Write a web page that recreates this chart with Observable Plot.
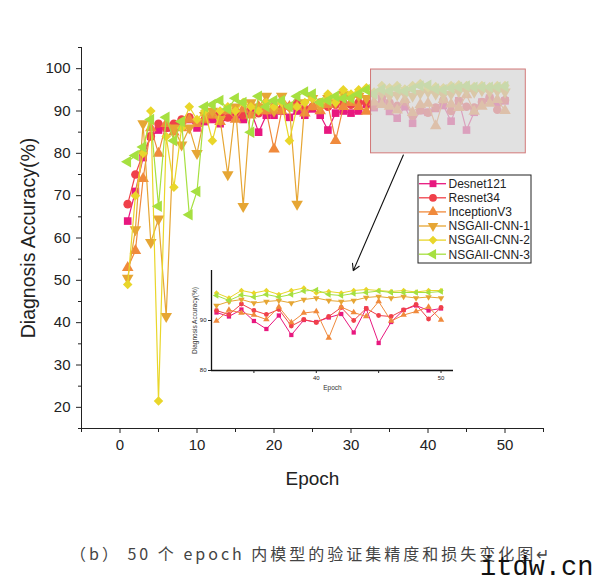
<!DOCTYPE html>
<html><head><meta charset="utf-8">
<script src="https://cdn.jsdelivr.net/npm/d3@7"></script>
<script src="https://cdn.jsdelivr.net/npm/@observablehq/plot@0.6"></script>
<style>
body{margin:0;background:#fff;width:600px;height:575px;position:relative;overflow:hidden;font-family:"Liberation Sans",Arial,sans-serif;}
#main{position:absolute;left:0;top:0}
#inset{position:absolute;left:181px;top:262px}
#legend{position:absolute;left:0;top:0}
#caption{position:absolute;left:70px;top:543px;font-family:"Noto Sans CJK SC";font-size:16px;line-height:20px;letter-spacing:3px;color:#444;white-space:pre}
#wm{position:absolute;left:480px;top:555px;font-family:"Liberation Mono",monospace;font-size:27px;line-height:27px;color:#111;white-space:pre}
</style></head><body>
<div id="main"></div><div id="inset"></div><div id="legend"></div>
<div id="caption">（b） 50 个 epoch 内模型的验证集精度和损失变化图↵</div>
<div id="wm">itdw.cn</div>
<script>
// ---------- data ----------
const epochs = [1,2,3,4,5,6,7,8,9,10,11,12,13,14,15,16,17,18,19,20,21,22,23,24,25,26,27,28,29,30,31,32,33,34,35,36,37,38,39,40,41,42,43,44,45,46,47,48,49,50];
const seriesNames = ["Desnet121","Resnet34","InceptionV3","NSGAII-CNN-1","NSGAII-CNN-2","NSGAII-CNN-3"];
const desnet121 = [64,71,79,84,85.5,86,86.5,87,88,86,87.5,88,87,88.5,89,88,90,85,89,89,90,88.5,90,89,90.5,89,85.5,89.5,90,89.5,90,
  91.6,90.8,92.2,89.9,88.3,91.0,87.1,90.1,89.7,90.6,91.3,87.6,92.4,85.5,89.7,92.1,93.0,92.0,92.4];
const resnet34 = [68,75,80,84,87,86,87,88,88.5,87.5,88,89,89.5,88.5,90,89,91,89.5,90,91,90.5,91,92,90.5,91,92,91,91.5,92,91.5,92,
  92.0,91.2,93.3,92.0,91.2,92.2,88.9,90.2,89.6,90.8,92.6,90.0,92.4,91.0,90.8,92.1,93.2,90.3,92.6];
const inceptionV3 = [53,57,74,86,80,87,85,86,88,87,88,89,87.5,90,88,90.5,89,91,90,81,90,91,91,89.5,91,90,91.5,83,91,92,91,
  89.9,92.1,91.5,91.1,90.2,92.7,89.6,91.5,91.8,86.5,92.7,91.6,90.8,93.8,89.9,91.1,91.8,92.7,90.1];
const nsgaCnn1 = [50.5,62,87,59,64.5,41.5,86,82,86,80,89,90,88,75,91,67.5,92,91,93.5,90,93.5,91,68,92,93,91,93,92,94,93,93.5,
  93.0,93.8,94.2,93.5,93.8,94.0,93.5,94.2,94.5,94.0,93.8,94.0,94.6,94.8,94.5,94.8,94.5,94.7,94.5];
const nsgaCnn2 = [49,70,80,90,21.5,84,72,86,91,88,90,83,90,91,90,92,91,90,92,91,92,83,91,92,93,92,94,92,95,94,95,
  95.5,94.5,96.0,95.5,96.0,95.2,96.0,96.5,95.5,95.8,95.5,96.0,96.2,96.0,95.8,96.0,95.7,96.0,96.0];
const nsgaCnn3 = [78,79.5,81.5,88,67.5,88.5,83,87.5,65.5,71,91,91.5,92.5,90.5,93,92,85,93.5,91,92.5,92.5,91,93.5,94.5,94,92,92.5,93.5,93,93,94,
  95.0,94.0,95.1,94.7,95.2,94.7,95.2,95.9,96.1,95.2,95.0,95.4,95.6,95.9,95.6,95.6,95.6,95.6,95.8];
const seriesValues = [desnet121, resnet34, inceptionV3, nsgaCnn1, nsgaCnn2, nsgaCnn3];

const xMajorTicks = [0,10,20,30,40,50];
const xMinorTicks = [-5,5,15,25,35,45,55];
const yMajorTicks = [20,30,40,50,60,70,80,90,100];
const yMinorTicks = [15,25,35,45,55,65,75,85,95,105];
const insetXTicks = [35,40,45,50];
const insetXLabels = [40,50];
const insetYTicks = [80,90];
const zoomWindow = [{x1:32.6, x2:52.7, y1:80, y2:99.8}];
const zoomLink = [{x1:36.8, y1:79.6, x2:30.3, y2:52.3}];
const insetFirstEpoch = 32;

// ---------- styles ----------
const colors = ["#e8187f","#f0404a","#f08a3c","#e6a634","#e9d62a","#a6e040"];
const sqrt3 = Math.sqrt(3);
const triDown = {draw(ctx, size){const y=-Math.sqrt(size/(sqrt3*3)); ctx.moveTo(0,-y*2); ctx.lineTo(sqrt3*y,y); ctx.lineTo(-sqrt3*y,y); ctx.closePath();}};
const triLeft = {draw(ctx, size){const y=-Math.sqrt(size/(sqrt3*3)); ctx.moveTo(y*2,0); ctx.lineTo(-y,-sqrt3*y); ctx.lineTo(-y,sqrt3*y); ctx.closePath();}};
const symbols = ["square","circle","triangle",triDown,"diamond2",triLeft];
const d3Symbols = [d3.symbolSquare,d3.symbolCircle,d3.symbolTriangle,triDown,d3.symbolDiamond2,triLeft];

const tables = seriesValues.map(vals => epochs.map((e,j)=>({epoch:e, acc:vals[j]})));

// ---------- main chart ----------
const mainMarks = [];
tables.forEach((rows,i)=>{
  mainMarks.push(Plot.line(rows,{x:"epoch",y:"acc",stroke:colors[i],strokeWidth:1.2}));
  mainMarks.push(Plot.dot(rows,{x:"epoch",y:"acc",fill:colors[i],symbol:symbols[i],r:4.3}));
});
const main = Plot.plot({
  width:600, height:500,
  marginLeft:81, marginRight:57, marginTop:47, marginBottom:72,
  x:{domain:[-5,55], label:null},
  y:{domain:[15,105], label:null},
  style:{fontFamily:"Liberation Sans, Arial, sans-serif", color:"#222", background:"transparent"},
  marks:[
    ...mainMarks,
    Plot.rect(zoomWindow,{x1:"x1",x2:"x2",y1:"y1",y2:"y2",fill:"#d6d6d6",fillOpacity:0.72,stroke:"#d27878",strokeWidth:1}),
    Plot.arrow(zoomLink,{x1:"x1",y1:"y1",x2:"x2",y2:"y2",stroke:"#111",strokeWidth:1.1,headLength:10}),
    Plot.ruleX([-5],{stroke:"#222"}),
    Plot.ruleY([15],{stroke:"#222"}),
    Plot.axisY({ticks:yMajorTicks,tickSize:5,tickPadding:6,fontSize:15,label:null}),
    Plot.axisY({ticks:yMinorTicks,tickSize:3,tickFormat:()=>"",label:null}),
    Plot.axisX({ticks:xMajorTicks,tickSize:5,tickPadding:6,fontSize:15,label:null}),
    Plot.axisX({ticks:xMinorTicks,tickSize:4,tickFormat:()=>"",label:null}),
    Plot.text(["Diagnosis Accuracy(%)"],{frameAnchor:"left",dx:-53,rotate:-90,textAnchor:"middle",lineAnchor:"middle",fontSize:19.5,fill:"#222"}),
    Plot.text(["Epoch"],{frameAnchor:"bottom",dy:50,textAnchor:"middle",lineAnchor:"middle",fontSize:19,fill:"#222"})
  ]
});
document.getElementById("main").appendChild(main);

// ---------- inset ----------
const insetMarks = [];
tables.forEach((rows,i)=>{
  const sub = rows.filter(d=>d.epoch>=insetFirstEpoch);
  insetMarks.push(Plot.line(sub,{x:"epoch",y:"acc",stroke:colors[i],strokeWidth:1}));
  insetMarks.push(Plot.dot(sub,{x:"epoch",y:"acc",fill:colors[i],symbol:symbols[i],r:2.4}));
});
const inset = Plot.plot({
  width:282, height:140,
  marginLeft:30, marginRight:10, marginTop:8, marginBottom:32,
  x:{domain:[31.6,51], label:null},
  y:{domain:[80,100], label:null},
  style:{fontFamily:"Liberation Sans, Arial, sans-serif", color:"#222", background:"transparent", overflow:"visible"},
  marks:[
    ...insetMarks,
    Plot.ruleX([31.6],{stroke:"#111",strokeWidth:1.3}),
    Plot.ruleY([80],{stroke:"#111",strokeWidth:1.3}),
    Plot.axisY({ticks:insetYTicks,tickSize:3,tickPadding:2,fontSize:6,label:null}),
    Plot.axisX({ticks:insetXTicks,tickSize:3,tickPadding:2,fontSize:6,label:null,tickFormat:d=>insetXLabels.includes(d)?String(d):""}),
    Plot.text(["Diagnosis Accuracy(%)"],{frameAnchor:"left",dx:-17,rotate:-90,textAnchor:"middle",lineAnchor:"middle",fontSize:6.5,fill:"#333"}),
    Plot.text(["Epoch"],{frameAnchor:"bottom",dy:17,textAnchor:"middle",lineAnchor:"middle",fontSize:6.5,fill:"#333"})
  ]
});
document.getElementById("inset").appendChild(inset);

// ---------- legend ----------
const lg = d3.select("#legend").append("svg").attr("width",600).attr("height",300)
  .style("font-family","Liberation Sans, Arial, sans-serif");
lg.append("rect").attr("x",418).attr("y",175).attr("width",113).attr("height",88)
  .attr("fill","#fff").attr("stroke","#222").attr("stroke-width",1);
seriesNames.forEach((name,i)=>{
  const cy = 183.7 + i*14.1;
  const g = lg.append("g");
  g.append("line").attr("x1",419).attr("x2",446).attr("y1",cy).attr("y2",cy).attr("stroke",colors[i]).attr("stroke-width",1.3);
  g.append("path").attr("transform",`translate(433,${cy})`).attr("d",d3.symbol(d3Symbols[i], Math.PI*3.9*3.9)()).attr("fill",colors[i]);
  g.append("text").attr("x",448.5).attr("y",cy+4.3).attr("font-size",12).attr("fill","#222").text(name);
});
</script></body></html>
